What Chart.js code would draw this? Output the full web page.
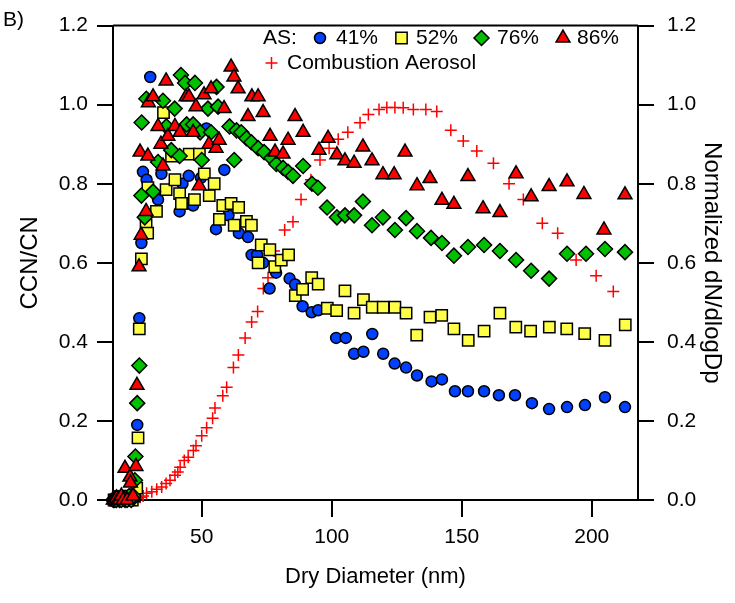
<!DOCTYPE html>
<html>
<head>
<meta charset="utf-8">
<script src="https://cdn.jsdelivr.net/npm/chart.js@4.4.0/dist/chart.umd.min.js"></script>
<style>
  html, body { margin: 0; padding: 0; background: #fff; }
</style>
</head>
<body>
<canvas id="grafico" width="735" height="603"></canvas>
<script>
// diâmetros (nm) e CCN/CN, uma lista por série
const as41D = [16.0, 16.6, 17.2, 17.8, 18.4, 19.1, 19.8, 20.5, 21.3, 22.1, 22.9, 23.7, 24.6,
  25.2, 26.0, 26.8, 27.4, 28.8, 30.2, 33.2, 34.5, 41.5, 42.6, 44.7, 45.0, 46.7, 49.7, 51.8, 55.5,
  58.7, 60.3, 64.3, 67.8, 69.2, 71.3, 73.6, 76.1, 78.6, 83.8, 85.9, 88.8, 92.3, 94.8, 101.7, 105.4,
  108.6, 112.2, 115.6, 119.8, 124.2, 128.6, 132.8, 138.4, 142.4, 147.4, 152.4, 158.6, 164.3, 170.5,
  177.0, 183.6, 190.5, 197.4, 205.1, 212.8];
const as41V = [0, 0, 0.01, 0, 0, 0.005, 0, 0.01, 0, 0, 0.005, 0.01, 0.02,
  0.19, 0.46, 0.65, 0.83, 0.81, 1.07, 0.76, 0.825, 0.73, 0.80, 0.75, 0.82, 0.745, 0.815, 0.94, 0.685,
  0.835, 0.72, 0.675, 0.665, 0.62, 0.62, 0.60, 0.535, 0.575, 0.56, 0.545, 0.49, 0.475, 0.48, 0.41, 0.41,
  0.37, 0.375, 0.42, 0.37, 0.345, 0.335, 0.315, 0.30, 0.305, 0.275, 0.275, 0.275, 0.265, 0.265,
  0.245, 0.23, 0.235, 0.24, 0.26, 0.235];

const as52D = [16.3, 16.9, 17.5, 18.1, 18.8, 19.5, 20.2, 20.9, 21.7, 22.5, 23.3, 24.1, 25.0,
  25.5, 26.0, 26.8, 28.6, 29.2, 29.3, 32.6, 35.3, 36.3, 38.4, 39.7, 41.5, 42.2, 45.2, 47.2, 49.1,
  51.0, 52.9, 54.8, 56.8, 58.1, 61.3, 62.5, 64.2, 67.2, 69.1, 71.7, 72.9, 76.2, 78.1, 80.6, 83.4,
  86.0, 88.8, 92.3, 94.8, 98.3, 101.9, 105.1, 108.6, 112.2, 115.6, 119.8, 124.3, 128.6, 132.7,
  137.8, 142.3, 147.0, 152.5, 158.6, 164.7, 170.8, 176.5, 183.7, 190.4, 197.3, 205.1, 212.9];
const as52V = [0, 0, 0, 0.005, 0, 0, 0, 0.005, 0, 0.01, 0, 0.01, 0.03,
  0.157, 0.433, 0.61, 0.695, 0.675, 0.79, 0.73, 0.98, 0.785, 0.87, 0.81, 0.775, 0.75, 0.875, 0.76, 0.875,
  0.825, 0.77, 0.80, 0.71, 0.745, 0.75, 0.695, 0.74, 0.705, 0.695, 0.60, 0.645, 0.633, 0.59, 0.607, 0.62,
  0.517, 0.533, 0.5625, 0.546, 0.485, 0.479, 0.529, 0.4725, 0.507, 0.4875, 0.4875, 0.4875, 0.4725, 0.417,
  0.4625, 0.467, 0.433, 0.404, 0.427, 0.4725, 0.4375, 0.427, 0.4375, 0.433, 0.421, 0.404, 0.443];

const as76D = [16.0, 16.6, 17.2, 17.8, 18.4, 19.1, 19.8, 20.5, 21.3, 22.1, 22.9, 23.7,
  24.3, 24.5, 25.2, 26.0, 26.8, 26.9, 28.1, 28.7, 31.3, 33.2, 35.1, 36.4, 38.3, 39.6, 41.5, 42.0,
  43.6, 44.2, 46.7, 47.4, 49.4, 50.0, 52.4, 53.6, 55.7, 56.3, 60.7, 62.5, 63.4, 65.2, 67.2, 69.1,
  71.7, 74.0, 76.8, 78.7, 81.3, 83.2, 85.1, 89.0, 92.4, 94.7, 98.2, 102.0, 105.1, 108.6, 112.0, 115.5,
  119.7, 124.3, 128.6, 132.8, 138.2, 142.4, 147.0, 152.4, 158.6, 164.7, 170.9, 176.7, 183.6, 190.5,
  197.8, 205.1, 212.8];
const as76V = [0, 0, 0, 0.005, 0, 0, 0.005, 0, 0, 0.01, 0, 0.01,
  0.05, 0.11, 0.245, 0.34, 0.77, 0.955, 0.715, 1.015, 0.78, 0.855, 1.01, 0.945, 0.885, 0.99, 0.87, 1.075,
  1.055, 0.95, 0.95, 1.055, 0.93, 0.86, 0.99, 0.93, 1.045, 0.995, 0.945, 0.86, 0.935, 0.93, 0.915, 0.905,
  0.89, 0.88, 0.865, 0.85, 0.84, 0.83, 0.82, 0.845, 0.80, 0.79, 0.74, 0.715, 0.72, 0.72, 0.755, 0.695,
  0.715, 0.683, 0.713, 0.68, 0.663, 0.65, 0.618, 0.64, 0.645, 0.63, 0.607, 0.58, 0.56, 0.623,
  0.623, 0.635, 0.627];

const as86D = [16.0, 16.6, 17.2, 17.8, 18.4, 19.1, 19.8,
  20.5, 21.3, 22.4, 22.6, 23.6, 24.7, 25.1, 25.9, 26.3, 26.7, 28.6, 29.3, 29.5, 31.3, 33.2, 34.3,
  35.1, 36.3, 37.0, 39.7, 41.7, 44.0, 45.1, 46.7, 47.8, 49.0, 50.9, 52.8, 53.6, 55.5, 56.7, 58.6,
  61.3, 62.4, 64.0, 67.8, 69.3, 71.7, 73.6, 76.3, 78.2, 81.3, 83.2, 85.9, 89.0, 95.1, 98.6, 102.0,
  105.1, 108.6, 112.0, 115.5, 119.7, 124.0, 128.2, 132.8, 137.8, 142.4, 147.0, 152.4, 158.2, 164.7,
  170.9, 176.7, 183.6, 190.5, 197.0, 204.7, 212.8];
const as86V = [0, 0, 0.005, 0, 0, 0.01, 0,
  0.08, 0.0, 0.058, 0.043, 0.01, 0.085, 0.29, 0.59, 0.88, 0.67, 0.73, 0.87, 1.005, 1.02, 0.945, 0.90,
  0.845, 1.06, 0.92, 0.945, 0.93, 1.02, 1.02, 0.93, 0.995, 0.795, 1.025, 0.90, 1.04, 0.89, 0.91, 0.99,
  1.095, 1.07, 1.04, 0.97, 1.02, 1.02, 0.98, 0.92, 0.88, 0.875, 0.91, 0.97, 0.93, 0.885, 0.915, 0.873,
  0.858, 0.852, 0.893, 0.858, 0.823, 0.823, 0.88, 0.795, 0.813, 0.758, 0.748, 0.818, 0.737, 0.727,
  0.825, 0.767, 0.793, 0.805, 0.773, 0.683, 0.772];

// aerossol de combustão, dN/dlogDp normalizado (eixo da direita)
const aerD = [16.0, 16.9, 17.9, 18.9, 19.9, 21.0, 22.1, 23.2, 24.4, 25.3, 26.3, 27.5, 28.8, 30.8,
  32.7, 34.6, 36.3, 37.8, 39.7, 40.8, 41.7, 43.3, 44.8, 46.8, 47.8, 50.0, 51.9, 54.2, 55.1, 58.1,
  59.6, 62.2, 64.1, 66.7, 69.2, 71.5, 73.7, 75.5, 77.8, 81.9, 85.1, 88.2, 92.0, 95.5, 99.0, 102.5,
  106.2, 110.9, 114.1, 118.2, 121.2, 124.3, 127.5, 131.4, 136.2, 140.4, 145.8, 150.6, 155.8, 162.2,
  168.2, 173.7, 181.0, 186.9, 194.0, 201.7, 208.3];
const aerV = [0, 0, 0, 0, 0, 0, 0, 0, 0, 0.003, 0.007, 0.01, 0.017, 0.021,
  0.027, 0.033, 0.042, 0.05, 0.0625, 0.071, 0.083, 0.10, 0.108, 0.125, 0.1375, 0.1625, 0.183, 0.207, 0.233, 0.264,
  0.285, 0.335, 0.367, 0.41, 0.45, 0.477, 0.535, 0.5625, 0.63, 0.683, 0.704, 0.76, 0.81, 0.86, 0.89, 0.9125,
  0.93, 0.954, 0.975, 0.9875, 0.993, 0.993, 0.992, 0.9875, 0.9875, 0.983, 0.935, 0.908, 0.883, 0.852,
  0.80, 0.76, 0.70, 0.675, 0.607, 0.567, 0.5275];

const xTicks = [50, 100, 150, 200];
const yTicks = [0, 0.2, 0.4, 0.6, 0.8, 1.0, 1.2];
const yTickLabels = ['0.0', '0.2', '0.4', '0.6', '0.8', '1.0', '1.2'];
const rotulos = ['41%', '52%', '76%', '86%', 'Combustion Aerosol'];

const fonte = "'Liberation Sans', Arial, sans-serif";

function pontos(d, v) {
  return d.map((x, i) => ({ x: x, y: v[i] }));
}

function eixoY(pos, titulo, padTitulo, padTicks, largura) {
  return {
    type: 'linear',
    position: pos,
    min: 0,
    max: 1.2,
    afterBuildTicks: s => { s.ticks = yTicks.map(v => ({ value: v })); },
    afterFit: s => { s.width = largura; },
    grid: { display: true, drawOnChartArea: false, drawTicks: true, tickLength: 16, color: '#000', lineWidth: 2 },
    border: { display: true, color: '#000', width: 2 },
    ticks: {
      color: '#000',
      padding: padTicks,
      font: { family: fonte, size: 21 },
      callback: (v, i) => yTickLabels[i]
    },
    title: { display: true, text: titulo, color: '#000', font: { family: fonte, size: 24 }, padding: { top: padTitulo, bottom: 0 } }
  };
}

// legenda, moldura de cima e "B)"
const extras = {
  id: 'extras',
  beforeDatasetsDraw(chart) {
    const ctx = chart.ctx, a = chart.chartArea;
    ctx.save();
    ctx.strokeStyle = '#000';
    ctx.lineWidth = 2;
    ctx.beginPath();
    ctx.moveTo(a.left, a.top);
    ctx.lineTo(a.right, a.top);
    ctx.stroke();
    ctx.restore();
  },
  afterDatasetsDraw(chart) {
    const ctx = chart.ctx;
    const ds = chart.data.datasets;
    ctx.save();
    ctx.fillStyle = '#000';
    ctx.font = '21px ' + fonte;
    ctx.textBaseline = 'middle';
    ctx.fillText('B)', 3, 20);
    ctx.fillText('AS:', 263, 38);

    // ordem na legenda: 41, 52, 76, 86
    const ordem = [3, 2, 1, 0];
    const mx = [320, 401.5, 481.5, 563];
    const tx = [336, 416, 497, 577];
    ordem.forEach((k, i) => {
      marca(ctx, ds[k], mx[i], 38);
      ctx.fillStyle = '#000';
      ctx.fillText(ds[k].label, tx[i], 38);
    });
    marca(ctx, ds[4], 271.5, 63);
    ctx.fillStyle = '#000';
    ctx.fillText(ds[4].label, 287, 63);
    ctx.restore();
  }
};

function marca(ctx, d, x, y) {
  ctx.save();
  ctx.fillStyle = d.backgroundColor;
  ctx.strokeStyle = d.borderColor;
  ctx.lineWidth = d.borderWidth;
  Chart.helpers.drawPoint(ctx, { pointStyle: d.pointStyle, radius: d.pointRadius, rotation: 0, borderWidth: d.borderWidth }, x, y);
  ctx.restore();
}

const grafico = new Chart(document.getElementById('grafico'), {
  type: 'scatter',
  data: {
    datasets: [
      { label: rotulos[3], data: pontos(as86D, as86V), yAxisID: 'y', pointStyle: 'triangle', pointRadius: 8,
        backgroundColor: '#ff0000', borderColor: '#000', borderWidth: 1.5, order: 0, clip: false },
      { label: rotulos[2], data: pontos(as76D, as76V), yAxisID: 'y', pointStyle: 'rectRot', pointRadius: 7.5,
        backgroundColor: '#00c000', borderColor: '#000', borderWidth: 1.5, order: 1, clip: false },
      { label: rotulos[1], data: pontos(as52D, as52V), yAxisID: 'y', pointStyle: 'rect', pointRadius: 8,
        backgroundColor: '#ffff48', borderColor: '#000', borderWidth: 1.5, order: 2, clip: false },
      { label: rotulos[0], data: pontos(as41D, as41V), yAxisID: 'y', pointStyle: 'circle', pointRadius: 5.5,
        backgroundColor: '#0040ff', borderColor: '#000', borderWidth: 1.5, order: 3, clip: false },
      { label: rotulos[4], data: pontos(aerD, aerV), yAxisID: 'y2', pointStyle: 'cross', pointRadius: 6,
        backgroundColor: '#ff0000', borderColor: '#ff0000', borderWidth: 1.5, order: 4, clip: false }
    ]
  },
  options: {
    responsive: false,
    animation: false,
    devicePixelRatio: 1,
    layout: { padding: { top: 20, left: 0, right: 0, bottom: 0 } },
    plugins: { legend: { display: false }, tooltip: { enabled: false } },
    elements: { point: { hoverRadius: 0 } },
    scales: {
      x: {
        type: 'linear',
        position: 'bottom',
        min: 15.88,
        max: 217.8,
        afterBuildTicks: s => { s.ticks = xTicks.map(v => ({ value: v })); },
        afterFit: s => { s.height = 103; },
        grid: { display: true, drawOnChartArea: false, drawTicks: true, tickLength: 17, color: '#000', lineWidth: 2 },
        border: { display: true, color: '#000', width: 2 },
        ticks: { color: '#000', padding: 8, font: { family: fonte, size: 21 }, callback: v => String(v) },
        title: { display: true, text: 'Dry Diameter (nm)', color: '#000', font: { family: fonte, size: 22 }, padding: { top: 0, bottom: 13 } }
      },
      y: eixoY('left', 'CCN/CN', 16, 9, 113),
      y2: eixoY('right', 'Normalized dN/dlogDp', 9, 13, 97)
    }
  },
  plugins: [extras]
});
</script>
</body>
</html>
